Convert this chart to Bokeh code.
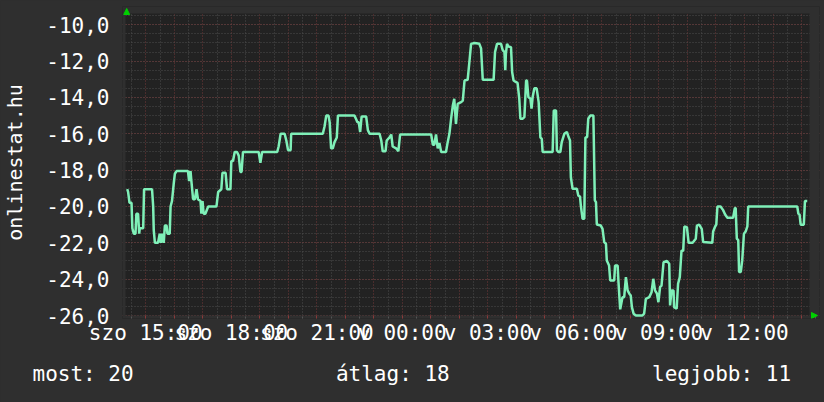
import math
from bokeh.plotting import figure
from bokeh.models import FixedTicker, Arrow, NormalHead, BoxAnnotation, Title
from bokeh.embed import file_html
from bokeh.resources import INLINE

# ---- data (hours relative to Saturday 15:00, values) ----
hours = [
    -0.65, -0.62, -0.57, -0.50, -0.47, -0.42, -0.36, -0.33, -0.27, -0.23, -0.21, -0.09, -0.06,
    0.22, 0.26, 0.28, 0.32, 0.43, 0.49, 0.53, 0.57, 0.63, 0.67, 0.73, 0.76, 0.84, 0.87, 0.92,
    0.98, 1.02, 1.08, 1.48, 1.52, 1.57, 1.60, 1.66, 1.72, 1.78, 1.83, 1.92, 1.95, 1.99, 2.03,
    2.09, 2.19, 2.48, 2.54, 2.65, 2.69, 2.80, 2.85, 2.97, 3.00, 3.06, 3.12, 3.20, 3.26, 3.32,
    3.36, 3.41, 3.96, 4.02, 4.08, 4.61, 4.66, 4.73, 4.87, 4.93, 4.99, 5.08, 5.10, 6.21, 6.27,
    6.33, 6.41, 6.45, 6.50, 6.56, 6.62, 6.70, 6.74, 7.32, 7.38, 7.42, 7.47, 7.52, 7.57, 7.73,
    7.79, 7.85, 8.20, 8.26, 8.31, 8.41, 8.45, 8.55, 8.61, 8.66, 8.78, 8.86, 8.92, 10.01, 10.07,
    10.12, 10.18, 10.24, 10.30, 10.36, 10.53, 10.59, 10.65, 10.71, 10.77, 10.82, 10.88, 10.94,
    11.06, 11.12, 11.18, 11.29, 11.35, 11.41, 11.53, 11.70, 11.76, 11.82, 12.20, 12.25, 12.32,
    12.46, 12.52, 12.58, 12.61, 12.63, 12.67, 12.72, 12.81, 12.85, 12.90, 12.99, 13.04, 13.10,
    13.14, 13.22, 13.28, 13.34, 13.37, 13.42, 13.49, 13.53, 13.57, 13.63, 13.71, 13.78, 13.84,
    13.89, 13.92, 14.27, 14.31, 14.39, 14.42, 14.47, 14.54, 14.59, 14.68, 14.77, 14.83, 14.88,
    14.91, 14.97, 15.12, 15.17, 15.23, 15.26, 15.32, 15.38, 15.42, 15.48, 15.52, 15.59, 15.70,
    15.75, 15.79, 15.82, 15.96, 16.02, 16.08, 16.14, 16.17, 16.25, 16.29, 16.43, 16.46, 16.55,
    16.58, 16.64, 16.72, 16.78, 16.84, 16.90, 16.96, 17.01, 17.05, 17.11, 17.19, 17.42, 17.48,
    17.54, 17.66, 17.74, 17.80, 17.86, 17.93, 17.98, 18.04, 18.09, 18.16, 18.28, 18.36, 18.39,
    18.44, 18.51, 18.53, 18.62, 18.67, 18.73, 18.79, 18.85, 18.89, 18.98, 19.04, 19.18, 19.29,
    19.33, 19.41, 19.50, 19.55, 19.87, 19.90, 19.97, 20.01, 20.05, 20.16, 20.25, 20.32, 20.40,
    20.60, 20.66, 20.69, 20.73, 20.78, 20.81, 20.87, 20.92, 20.98, 21.04, 21.10, 21.13, 22.85,
    22.89, 22.93, 22.97, 23.08, 23.12, 23.20,
]
online = [
    -19.05, -19.2, -19.8, -19.8, -21.2, -21.5, -21.5, -20.4, -20.4, -21.5, -21.2, -21.2, -19.05,
    -19.05, -20.0, -21.3, -22.0, -22.0, -21.5, -22.0, -21.5, -22.0, -21.05, -21.05, -21.5, -21.5, -20.0, -19.7,
    -18.75, -18.2, -18.05, -18.05, -18.6, -18.05, -18.6, -19.6, -19.6, -19.05, -19.6, -19.7, -20.4, -19.7, -20.4,
    -20.4, -20.0, -20.0, -19.2, -19.05, -18.15, -18.15, -19.05, -19.05, -17.5, -17.5, -17.0, -17.0, -17.2, -18.1,
    -18.1, -17.0, -17.0, -17.6, -17.0, -17.0, -16.7, -16.0, -16.0, -16.37, -16.9, -16.9, -16.0, -16.0, -15.6,
    -15.0, -15.0, -15.36, -16.8, -16.8, -16.46, -16.2, -15.0, -15.0, -15.2, -15.36, -15.36, -15.9, -15.05, -15.05,
    -15.8, -16.0, -16.0, -16.37, -16.96, -16.96, -16.37, -16.2, -16.04, -16.7, -16.8, -16.96, -16.04, -16.04, -16.6,
    -16.6, -16.04, -16.8, -16.5, -17.0, -17.0, -16.46, -16.0, -15.17, -14.44, -14.07, -15.45, -14.35,
    -14.26, -14.17, -13.07, -13.03, -12.06, -11.05, -11.0, -11.05, -11.3, -13.03, -13.03, -11.5, -11.05,
    -11.05, -11.4, -11.5, -12.5, -11.6, -11.05, -11.2, -11.23, -12.6, -13.07, -13.16, -13.2, -14.07,
    -15.17, -15.17, -15.08, -13.07, -13.07, -13.98, -14.07, -14.62, -13.98, -13.5, -13.5, -14.26, -16.2,
    -16.28, -17.0, -17.0, -14.72, -14.72, -16.9, -17.0, -17.0, -16.46, -16.0, -15.9, -16.18, -16.37,
    -18.39, -19.03, -19.03, -19.4, -19.45, -19.95, -20.68, -20.68, -16.2, -16.18, -15.17, -15.0, -15.0,
    -19.66, -19.76, -20.99, -21.05, -21.23, -21.96, -22.05, -22.97, -23.25, -24.07, -24.07, -23.25, -23.25,
    -24.16, -25.66, -24.99, -24.99, -23.89, -24.62, -24.8, -24.9, -25.54, -25.9, -26.0, -26.0, -25.9,
    -25.08, -24.99, -24.72, -23.98, -24.62, -24.8, -25.27, -24.43, -24.35, -23.07, -23.0, -23.15, -25.45,
    -24.62, -24.62, -25.54, -25.63, -24.25, -23.89, -22.43, -22.43, -21.1, -21.14, -22.0, -22.0, -21.78,
    -21.05, -21.0, -21.23, -21.96, -22.0, -21.38, -21.1, -21.0, -20.0, -20.0, -20.2, -20.44, -20.62,
    -20.62, -20.09, -20.09, -21.78, -21.84, -23.6, -23.6, -22.97, -21.5, -21.38, -21.1, -20.0, -20.0,
    -20.4, -20.44, -21.0, -21.0, -19.7, -19.7,
]

x_ticks = [0, 3, 6, 9, 12, 15, 18, 21]
x_tick_labels = ["szo 15:00", "szo 18:00", "szo 21:00", "v 00:00",
                 "v 03:00", "v 06:00", "v 09:00", "v 12:00"]
y_ticks = [-26, -24, -22, -20, -18, -16, -14, -12, -10]
y_tick_labels = ["-26,0", "-24,0", "-22,0", "-20,0", "-18,0",
                 "-16,0", "-14,0", "-12,0", "-10,0"]
axis_title = "onlinestat.hu"
stats = ["most: 20", "átlag: 18", "legjobb: 11"]
stat_gaps = [16, 16]   # spacing (in monospace characters) between the stats

# ---- styling ----
BG = "#2f2f2f"
PLOT_BG = "#222222"
MAJOR = "#733838"
MINOR = "#4c4c4c"
LINE = "#7ff0b8"
ARROW = "#00d000"
FONT = "DejaVu Sans Mono"
W, H = 824, 402

# data area (page pixels) and its value limits
X0, X1 = -0.711, 23.28
Y0, Y1 = -26.0, -9.38
A_L, A_R, A_T, A_B = 124, 809, 13, 315
PXH = (A_R - A_L) / (X1 - X0)
PXV = (A_B - A_T) / (Y1 - Y0)
# frame slightly larger than the data area so the axis arrows fit inside it
F_L, F_R, F_T, F_B = 121, 819, 6, 318

p = figure(width=W, height=H,
           x_range=(X0 - (A_L - F_L) / PXH, X1 + (F_R - A_R) / PXH),
           y_range=(Y0 - (F_B - A_B) / PXV, Y1 + (A_T - F_T) / PXV),
           output_backend="svg", toolbar_location=None,
           min_border_left=F_L, min_border_right=W - F_R,
           min_border_top=F_T, min_border_bottom=H - F_B,
           background_fill_color=PLOT_BG, border_fill_color=BG,
           outline_line_color=None)

# grids
all_hours = list(range(0, 24))
half_hours = [h + 0.5 for h in range(-1, 24)]
p.xgrid.ticker = FixedTicker(ticks=all_hours, minor_ticks=half_hours)
p.ygrid.ticker = FixedTicker(ticks=y_ticks,
                             minor_ticks=[-26 + 0.5 * i for i in range(34)])
for g in (p.xgrid, p.ygrid):
    g.grid_line_color = MAJOR
    g.grid_line_dash = "1 2"
    g.grid_line_width = 1
    g.minor_grid_line_color = MINOR
    g.minor_grid_line_dash = "1 2"
    g.minor_grid_line_width = 1

# masks outside the data area (drawn over the grid, under the data)
for kw in (dict(bottom=Y1), dict(top=Y0), dict(right=X0), dict(left=X1)):
    p.add_layout(BoxAnnotation(fill_color=BG, fill_alpha=1.0, line_color=None,
                               level="underlay", **kw))

# x axis
p.xaxis.ticker = FixedTicker(ticks=all_hours, minor_ticks=half_hours)
overrides = {h: "" for h in all_hours}
for t, lab in zip(x_ticks, x_tick_labels):
    overrides[t] = lab
p.xaxis.major_label_overrides = overrides
p.xaxis.major_tick_line_color = "#8a3a3a"
p.xaxis.major_tick_out = 0
p.xaxis.major_tick_in = 3
p.xaxis.minor_tick_line_color = "#555555"
p.xaxis.minor_tick_out = 0
p.xaxis.minor_tick_in = 2
p.xaxis.axis_line_color = None
p.xaxis.major_label_standoff = 2
p.xaxis.major_label_text_font = FONT
p.xaxis.major_label_text_font_size = "21px"
p.xaxis.major_label_text_color = "#ffffff"

# y axis
p.yaxis.ticker = FixedTicker(ticks=y_ticks, minor_ticks=[])
p.yaxis.major_label_overrides = {t: lab for t, lab in zip(y_ticks, y_tick_labels)}
p.yaxis.major_tick_line_color = None
p.yaxis.minor_tick_line_color = None
p.yaxis.axis_line_color = None
p.yaxis.major_label_standoff = 7
p.yaxis.major_label_text_font = FONT
p.yaxis.major_label_text_font_size = "21px"
p.yaxis.major_label_text_color = "#ffffff"
p.yaxis.axis_label = axis_title
p.yaxis.axis_label_standoff = 16
p.yaxis.axis_label_text_font = FONT
p.yaxis.axis_label_text_font_size = "20px"
p.yaxis.axis_label_text_font_style = "normal"
p.yaxis.axis_label_text_color = "#ffffff"

# data line
p.line(hours, online, line_color=LINE, line_width=2.5)

# axis arrows
p.add_layout(Arrow(end=NormalHead(size=6, fill_color=ARROW, line_color=ARROW, line_width=1),
                   x_start=X0 + 1.2 / PXH, y_start=Y1,
                   x_end=X0 + 1.2 / PXH, y_end=Y1 + 5 / PXV, line_alpha=0))
p.add_layout(Arrow(end=NormalHead(size=6, fill_color=ARROW, line_color=ARROW, line_width=1),
                   x_start=X1, y_start=Y0,
                   x_end=X1 + 8 / PXH, y_end=Y0, line_alpha=0))

# bottom statistics (monospace, non-breaking spaces keep the columns)
nb = "\u00a0"
stat_text = stats[0] + nb * stat_gaps[0] + stats[1] + nb * stat_gaps[1] + stats[2]
p.add_layout(Title(text=stat_text, align="left", offset=31 - F_L, standoff=24,
                   text_font=FONT, text_font_size="21px", text_font_style="normal",
                   text_color="#ffffff"), "below")

html = file_html(p, INLINE)
html = html.replace("</head>", "<style>body{background-color:%s;}</style></head>" % BG, 1)
open("out.html", "w").write(html)
